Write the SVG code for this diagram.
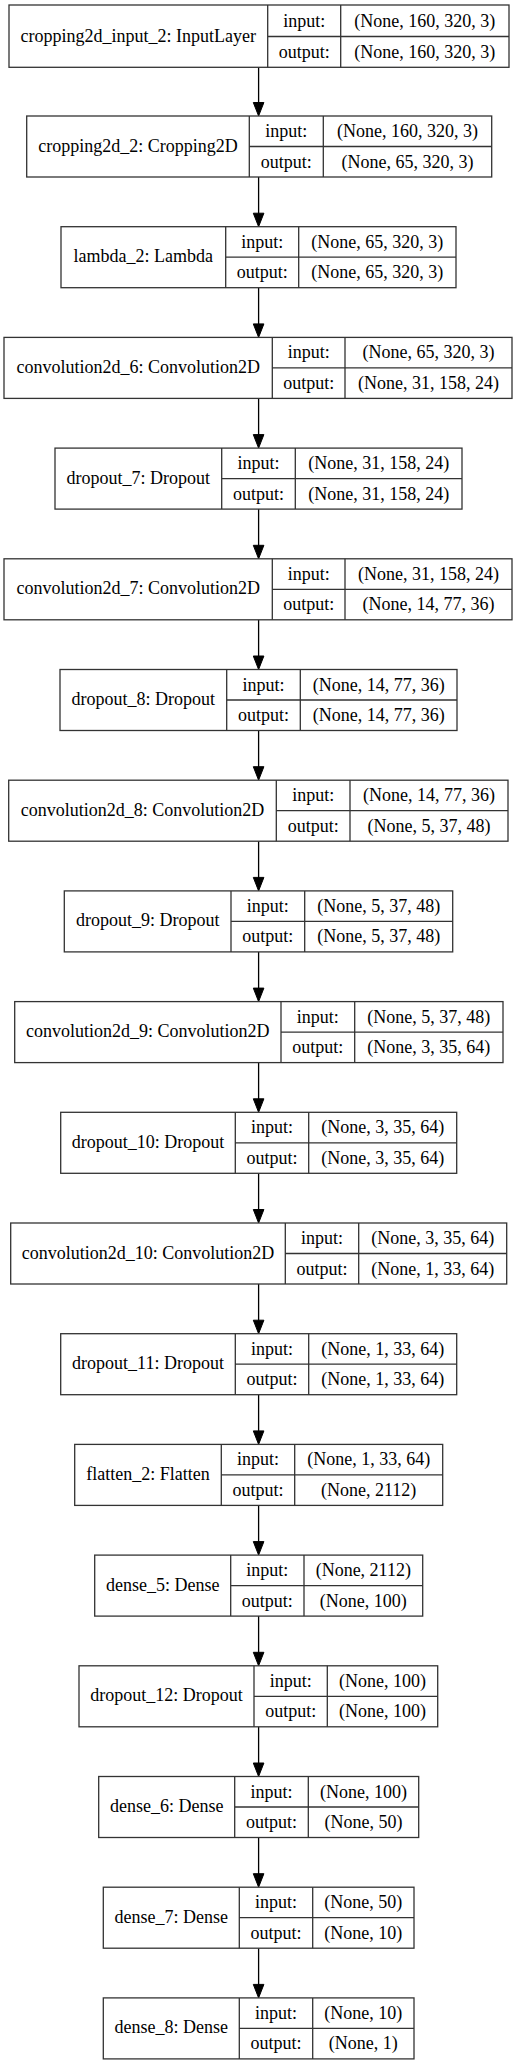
<svg xmlns="http://www.w3.org/2000/svg" width="517" height="2065" viewBox="0 0 517 2065">
<style>
.b{fill:#fff;stroke:#333;stroke-width:1.3}
.l{stroke:#333;stroke-width:1.3;fill:none}
text{font-family:"Liberation Serif","Times New Roman",serif;font-size:18px;fill:#000;text-anchor:middle}
.e{stroke:#000;stroke-width:1.3;fill:none}
.h{fill:#000;stroke:#000;stroke-width:1}
</style>
<rect width="517" height="2065" fill="#fff"/>
<g id="connectors">
<path class="e" d="M258.6 67.3V103M258.6 177V213.7M258.6 287.7V324.4M258.6 398.4V435.1M258.6 509.1V545.8M258.6 619.8V656.5M258.6 730.5V767.2M258.6 841.2V877.9M258.6 951.9V988.6M258.6 1062.6V1099.3M258.6 1173.3V1210M258.6 1284V1320.7M258.6 1394.7V1431.4M258.6 1505.4V1542.1M258.6 1616.1V1652.8M258.6 1726.8V1763.5M258.6 1837.5V1874.2M258.6 1948.2V1984.9"/>
<g class="h">
<polygon points="253.3,102.5 263.9,102.5 258.6,116"/>
<polygon points="253.3,213.2 263.9,213.2 258.6,226.7"/>
<polygon points="253.3,323.9 263.9,323.9 258.6,337.4"/>
<polygon points="253.3,434.6 263.9,434.6 258.6,448.1"/>
<polygon points="253.3,545.3 263.9,545.3 258.6,558.8"/>
<polygon points="253.3,656 263.9,656 258.6,669.5"/>
<polygon points="253.3,766.7 263.9,766.7 258.6,780.2"/>
<polygon points="253.3,877.4 263.9,877.4 258.6,890.9"/>
<polygon points="253.3,988.1 263.9,988.1 258.6,1001.6"/>
<polygon points="253.3,1098.8 263.9,1098.8 258.6,1112.3"/>
<polygon points="253.3,1209.5 263.9,1209.5 258.6,1223"/>
<polygon points="253.3,1320.2 263.9,1320.2 258.6,1333.7"/>
<polygon points="253.3,1430.9 263.9,1430.9 258.6,1444.4"/>
<polygon points="253.3,1541.6 263.9,1541.6 258.6,1555.1"/>
<polygon points="253.3,1652.3 263.9,1652.3 258.6,1665.8"/>
<polygon points="253.3,1763 263.9,1763 258.6,1776.5"/>
<polygon points="253.3,1873.7 263.9,1873.7 258.6,1887.2"/>
<polygon points="253.3,1984.4 263.9,1984.4 258.6,1997.9"/>
</g>
</g>
<g id="n0" transform="translate(0,5)"><rect class="b" x="9" y="0" width="500" height="62.3"/><path class="l" d="M267.7 0V62.3M340.7 0V62.3M267.7 31.5H509"/><text x="138.3" y="36.5">cropping2d_input_2: InputLayer</text><text x="304.2" y="21.5">input:</text><text x="304.2" y="52.5">output:</text><text x="424.8" y="21.5">(None, 160, 320, 3)</text><text x="424.8" y="52.5">(None, 160, 320, 3)</text></g>
<g id="n1" transform="translate(0,116)"><rect class="b" x="26.7" y="0" width="465" height="61"/><path class="l" d="M249.3 0V61M323.3 0V61M249.3 30.5H491.7"/><text x="138" y="35.5">cropping2d_2: Cropping2D</text><text x="286.3" y="21">input:</text><text x="286.3" y="51.5">output:</text><text x="407.5" y="21">(None, 160, 320, 3)</text><text x="407.5" y="51.5">(None, 65, 320, 3)</text></g>
<g id="n2" transform="translate(0,226.7)"><rect class="b" x="61" y="0" width="395" height="61"/><path class="l" d="M225.7 0V61M298.7 0V61M225.7 30.5H456"/><text x="143.3" y="35.5">lambda_2: Lambda</text><text x="262.2" y="21">input:</text><text x="262.2" y="51.5">output:</text><text x="377.3" y="21">(None, 65, 320, 3)</text><text x="377.3" y="51.5">(None, 65, 320, 3)</text></g>
<g id="n3" transform="translate(0,337.4)"><rect class="b" x="4" y="0" width="508" height="61"/><path class="l" d="M272.3 0V61M345 0V61M272.3 30.5H512"/><text x="138.2" y="35.5">convolution2d_6: Convolution2D</text><text x="308.7" y="21">input:</text><text x="308.7" y="51.5">output:</text><text x="428.5" y="21">(None, 65, 320, 3)</text><text x="428.5" y="51.5">(None, 31, 158, 24)</text></g>
<g id="n4" transform="translate(0,448.1)"><rect class="b" x="55" y="0" width="407" height="61"/><path class="l" d="M221.7 0V61M295.3 0V61M221.7 30.5H462"/><text x="138.3" y="35.5">dropout_7: Dropout</text><text x="258.5" y="21">input:</text><text x="258.5" y="51.5">output:</text><text x="378.7" y="21">(None, 31, 158, 24)</text><text x="378.7" y="51.5">(None, 31, 158, 24)</text></g>
<g id="n5" transform="translate(0,558.8)"><rect class="b" x="4" y="0" width="508" height="61"/><path class="l" d="M272.3 0V61M345 0V61M272.3 30.5H512"/><text x="138.2" y="35.5">convolution2d_7: Convolution2D</text><text x="308.7" y="21">input:</text><text x="308.7" y="51.5">output:</text><text x="428.5" y="21">(None, 31, 158, 24)</text><text x="428.5" y="51.5">(None, 14, 77, 36)</text></g>
<g id="n6" transform="translate(0,669.5)"><rect class="b" x="60" y="0" width="397" height="61"/><path class="l" d="M226.7 0V61M300.3 0V61M226.7 30.5H457"/><text x="143.3" y="35.5">dropout_8: Dropout</text><text x="263.5" y="21">input:</text><text x="263.5" y="51.5">output:</text><text x="378.7" y="21">(None, 14, 77, 36)</text><text x="378.7" y="51.5">(None, 14, 77, 36)</text></g>
<g id="n7" transform="translate(0,780.2)"><rect class="b" x="8.7" y="0" width="499.3" height="61"/><path class="l" d="M276.3 0V61M350 0V61M276.3 30.5H508"/><text x="142.5" y="35.5">convolution2d_8: Convolution2D</text><text x="313.2" y="21">input:</text><text x="313.2" y="51.5">output:</text><text x="429" y="21">(None, 14, 77, 36)</text><text x="429" y="51.5">(None, 5, 37, 48)</text></g>
<g id="n8" transform="translate(0,890.9)"><rect class="b" x="64.3" y="0" width="388.4" height="61"/><path class="l" d="M231 0V61M304.7 0V61M231 30.5H452.7"/><text x="147.7" y="35.5">dropout_9: Dropout</text><text x="267.8" y="21">input:</text><text x="267.8" y="51.5">output:</text><text x="378.7" y="21">(None, 5, 37, 48)</text><text x="378.7" y="51.5">(None, 5, 37, 48)</text></g>
<g id="n9" transform="translate(0,1001.6)"><rect class="b" x="14.7" y="0" width="488.3" height="61"/><path class="l" d="M281 0V61M354.7 0V61M281 30.5H503"/><text x="147.8" y="35.5">convolution2d_9: Convolution2D</text><text x="317.8" y="21">input:</text><text x="317.8" y="51.5">output:</text><text x="428.8" y="21">(None, 5, 37, 48)</text><text x="428.8" y="51.5">(None, 3, 35, 64)</text></g>
<g id="n10" transform="translate(0,1112.3)"><rect class="b" x="60.7" y="0" width="396" height="61"/><path class="l" d="M235.3 0V61M308.7 0V61M235.3 30.5H456.7"/><text x="148" y="35.5">dropout_10: Dropout</text><text x="272" y="21">input:</text><text x="272" y="51.5">output:</text><text x="382.7" y="21">(None, 3, 35, 64)</text><text x="382.7" y="51.5">(None, 3, 35, 64)</text></g>
<g id="n11" transform="translate(0,1223)"><rect class="b" x="10.7" y="0" width="496" height="61"/><path class="l" d="M285.3 0V61M358.7 0V61M285.3 30.5H506.7"/><text x="148" y="35.5">convolution2d_10: Convolution2D</text><text x="322" y="21">input:</text><text x="322" y="51.5">output:</text><text x="432.7" y="21">(None, 3, 35, 64)</text><text x="432.7" y="51.5">(None, 1, 33, 64)</text></g>
<g id="n12" transform="translate(0,1333.7)"><rect class="b" x="60.7" y="0" width="396" height="61"/><path class="l" d="M235.3 0V61M308.7 0V61M235.3 30.5H456.7"/><text x="148" y="35.5">dropout_11: Dropout</text><text x="272" y="21">input:</text><text x="272" y="51.5">output:</text><text x="382.7" y="21">(None, 1, 33, 64)</text><text x="382.7" y="51.5">(None, 1, 33, 64)</text></g>
<g id="n13" transform="translate(0,1444.4)"><rect class="b" x="74.7" y="0" width="368" height="61"/><path class="l" d="M221.3 0V61M294.7 0V61M221.3 30.5H442.7"/><text x="148" y="35.5">flatten_2: Flatten</text><text x="258" y="21">input:</text><text x="258" y="51.5">output:</text><text x="368.7" y="21">(None, 1, 33, 64)</text><text x="368.7" y="51.5">(None, 2112)</text></g>
<g id="n14" transform="translate(0,1555.1)"><rect class="b" x="94.7" y="0" width="328" height="61"/><path class="l" d="M230.7 0V61M304 0V61M230.7 30.5H422.7"/><text x="162.7" y="35.5">dense_5: Dense</text><text x="267.3" y="21">input:</text><text x="267.3" y="51.5">output:</text><text x="363.3" y="21">(None, 2112)</text><text x="363.3" y="51.5">(None, 100)</text></g>
<g id="n15" transform="translate(0,1665.8)"><rect class="b" x="79" y="0" width="358.7" height="61"/><path class="l" d="M254 0V61M327.3 0V61M254 30.5H437.7"/><text x="166.5" y="35.5">dropout_12: Dropout</text><text x="290.7" y="21">input:</text><text x="290.7" y="51.5">output:</text><text x="382.5" y="21">(None, 100)</text><text x="382.5" y="51.5">(None, 100)</text></g>
<g id="n16" transform="translate(0,1776.5)"><rect class="b" x="98.7" y="0" width="320" height="61"/><path class="l" d="M234.7 0V61M308.3 0V61M234.7 30.5H418.7"/><text x="166.7" y="35.5">dense_6: Dense</text><text x="271.5" y="21">input:</text><text x="271.5" y="51.5">output:</text><text x="363.5" y="21">(None, 100)</text><text x="363.5" y="51.5">(None, 50)</text></g>
<g id="n17" transform="translate(0,1887.2)"><rect class="b" x="103.3" y="0" width="310.7" height="61"/><path class="l" d="M239.3 0V61M312.7 0V61M239.3 30.5H414"/><text x="171.3" y="35.5">dense_7: Dense</text><text x="276" y="21">input:</text><text x="276" y="51.5">output:</text><text x="363.3" y="21">(None, 50)</text><text x="363.3" y="51.5">(None, 10)</text></g>
<g id="n18" transform="translate(0,1997.9)"><rect class="b" x="103.3" y="0" width="310.7" height="61"/><path class="l" d="M239.3 0V61M312.7 0V61M239.3 30.5H414"/><text x="171.3" y="35.5">dense_8: Dense</text><text x="276" y="21">input:</text><text x="276" y="51.5">output:</text><text x="363.3" y="21">(None, 10)</text><text x="363.3" y="51.5">(None, 1)</text></g>
</svg>
